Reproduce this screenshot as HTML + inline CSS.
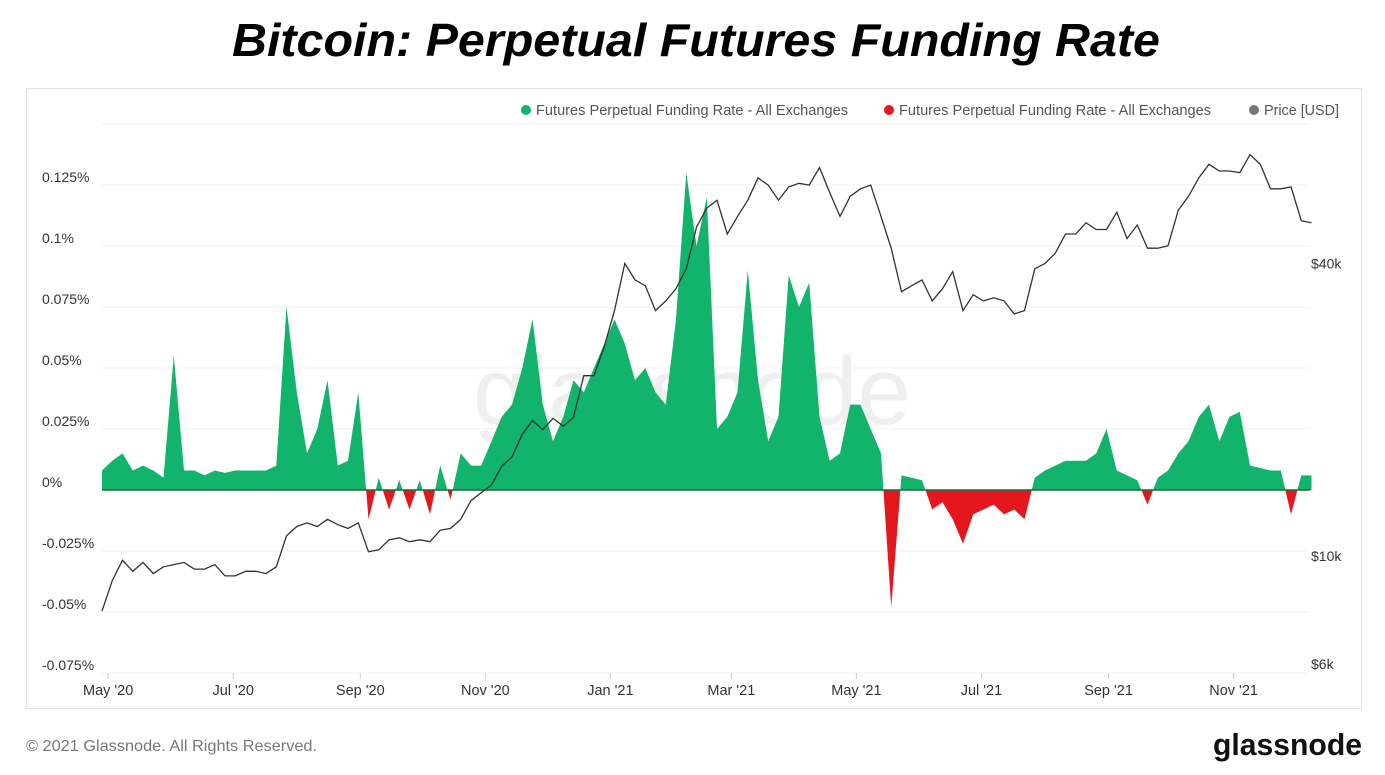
<!DOCTYPE html>
<html><head><meta charset="utf-8">
<style>
body{margin:0;background:#fff;width:1385px;height:775px;overflow:hidden;font-family:"Liberation Sans",sans-serif;}
svg{display:block}
</style></head>
<body>
<svg id="chart" width="1385" height="775">
  <text x="696" y="56" text-anchor="middle" font-size="46" font-weight="bold" font-style="italic" textLength="928" lengthAdjust="spacingAndGlyphs" fill="#000">Bitcoin: Perpetual Futures Funding Rate</text>
  <rect x="26.5" y="88.5" width="1335" height="620" fill="#fff" stroke="#e3e3e3"/>
  <text x="692" y="424" text-anchor="middle" font-size="96" fill="#efefef">glassnode</text>
  <g id="grid"></g>
  <g id="series"></g>
  <g id="legend" font-size="14.5" fill="#555">
    <g><circle cx="526" cy="110" r="5" fill="#12b36b"/><text x="536" y="115" textLength="312" lengthAdjust="spacingAndGlyphs">Futures Perpetual Funding Rate - All Exchanges</text></g>
    <g><circle cx="889" cy="110" r="5" fill="#e3171d"/><text x="899" y="115" textLength="312" lengthAdjust="spacingAndGlyphs">Futures Perpetual Funding Rate - All Exchanges</text></g>
    <g><circle cx="1254" cy="110" r="5" fill="#777"/><text x="1264" y="115" textLength="75" lengthAdjust="spacingAndGlyphs">Price [USD]</text></g>
  </g>
  <text x="26" y="751" font-size="16" fill="#777" textLength="291" lengthAdjust="spacingAndGlyphs">© 2021 Glassnode. All Rights Reserved.</text>
  <text x="1362" y="755" text-anchor="end" font-size="31" font-weight="bold" fill="#111" textLength="149" lengthAdjust="spacingAndGlyphs">glassnode</text>
</svg>
<script>
const startDate = "2020-04-28";
const stepDays = 5;
const fundingRate = [0.008,0.012,0.015,0.008,0.01,0.008,0.005,0.055,0.008,0.008,0.006,0.008,0.007,0.008,0.008,0.008,0.008,0.01,0.075,0.04,0.015,0.025,0.045,0.01,0.012,0.04,-0.012,0.005,-0.008,0.004,-0.008,0.004,-0.01,0.01,-0.004,0.015,0.01,0.01,0.02,0.03,0.035,0.05,0.07,0.035,0.02,0.03,0.045,0.04,0.05,0.06,0.07,0.06,0.045,0.05,0.04,0.035,0.07,0.13,0.1,0.12,0.025,0.03,0.04,0.09,0.045,0.02,0.03,0.088,0.075,0.085,0.03,0.012,0.015,0.035,0.035,0.025,0.015,-0.048,0.006,0.005,0.004,-0.008,-0.005,-0.012,-0.022,-0.01,-0.008,-0.006,-0.01,-0.008,-0.012,0.005,0.008,0.01,0.012,0.012,0.012,0.015,0.025,0.008,0.006,0.004,-0.006,0.005,0.008,0.015,0.02,0.03,0.035,0.02,0.03,0.032,0.01,0.009,0.008,0.008,-0.01,0.006,0.006];
const priceK = [7.7,8.9,9.8,9.3,9.7,9.2,9.5,9.6,9.7,9.4,9.4,9.6,9.1,9.1,9.3,9.3,9.2,9.5,11.0,11.5,11.7,11.5,11.9,11.6,11.4,11.7,10.2,10.3,10.8,10.9,10.7,10.8,10.7,11.3,11.4,11.9,13.0,13.5,14.0,15.3,16.0,17.8,19.0,18.2,19.2,18.5,19.3,23.5,23.5,27.0,32.0,40.0,37.0,36.0,32.0,33.5,35.5,39.0,47.5,52.0,54.0,46.0,50.0,54.0,60.0,58.0,54.0,57.5,58.5,58.0,63.0,56.0,50.0,55.0,57.0,58.0,50.0,43.0,35.0,36.0,37.0,33.5,35.5,38.5,32.0,34.5,33.5,34.0,33.5,31.5,32.0,39.0,40.0,42.0,46.0,46.0,48.5,47.0,47.0,51.0,45.0,48.0,43.0,43.0,43.5,51.5,55.0,60.0,64.0,62.0,62.0,61.5,67.0,64.0,57.0,57.0,57.5,49.0,48.5];
const yTicks = [0.125,0.1,0.075,0.05,0.025,0,-0.025,-0.05,-0.075];
const yTickLabels = ["0.125%","0.1%","0.075%","0.05%","0.025%","0%","-0.025%","-0.05%","-0.075%"];
const priceTicks = [40000,10000,6000];
const priceTickLabels = ["$40k","$10k","$6k"];
const xTickDates = ["2020-05-01","2020-07-01","2020-09-01","2020-11-01","2021-01-01","2021-03-01","2021-05-01","2021-07-01","2021-09-01","2021-11-01"];
const xTickLabels = ["May '20","Jul '20","Sep '20","Nov '20","Jan '21","Mar '21","May '21","Jul '21","Sep '21","Nov '21"];

const NS="http://www.w3.org/2000/svg";
const t0=Date.parse(startDate);
const dayOf=d=>(Date.parse(d)-t0)/86400000;
const xDay=d=>102+d*2.05;
const yRate=v=>490-v/0.025*61;
const yPrice=p=>556-211*Math.log(p/10000);
function mk(tag,attrs,parent){const e=document.createElementNS(NS,tag);for(const k in attrs)e.setAttribute(k,attrs[k]);parent.appendChild(e);return e;}
const grid=document.getElementById('grid'),series=document.getElementById('series');
[0.15].concat(yTicks).forEach(v=>{if(v===0)return;const l=mk('line',{x1:102,x2:1310,y1:yRate(v),y2:yRate(v),stroke:'#f0f0f0'},grid);

});
yTicks.forEach((v,i)=>{const t=mk('text',{x:42,y:yRate(v)-3,'font-size':14,fill:'#333'},grid);t.textContent=yTickLabels[i];

});
priceTicks.forEach((p,i)=>{const t=mk('text',{x:1311,y:yPrice(p)+5,'font-size':14,fill:'#333'},grid);t.textContent=priceTickLabels[i];

});
xTickDates.forEach((d,i)=>{const x=xDay(dayOf(d));mk('line',{x1:x,x2:x,y1:673,y2:679,stroke:'#ccc'},grid);
const t=mk('text',{x:x,y:695,'font-size':14.5,fill:'#333','text-anchor':'middle'},grid);t.textContent=xTickLabels[i];

});
let d='M'+xDay(0)+','+yRate(0);
fundingRate.forEach((v,i)=>{d+=' L'+xDay(i*stepDays).toFixed(1)+','+yRate(v).toFixed(1);});
d+=' L'+xDay((fundingRate.length-1)*stepDays)+','+yRate(0)+' Z';
const defs=mk('defs',{},series);
const c1=mk('clipPath',{id:'pos'},defs);mk('rect',{x:0,y:0,width:1385,height:yRate(0)},c1);
const c2=mk('clipPath',{id:'neg'},defs);mk('rect',{x:0,y:yRate(0),width:1385,height:400},c2);
const g=mk('path',{d:d,fill:'#12b36b','clip-path':'url(#pos)'},series);


const r=mk('path',{d:d,fill:'#e3171d','clip-path':'url(#neg)'},series);


const z=mk('line',{x1:102,x2:1310,y1:yRate(0),y2:yRate(0),stroke:'#1a6b3f','stroke-width':1.5},series);


let pd='';priceK.forEach((p,i)=>{pd+=(i?' L':'M')+xDay(i*stepDays).toFixed(1)+','+yPrice(p*1000).toFixed(1);});
const pl=mk('path',{d:pd,fill:'none',stroke:'#333','stroke-width':1.3},series);


</script>
</body></html>
